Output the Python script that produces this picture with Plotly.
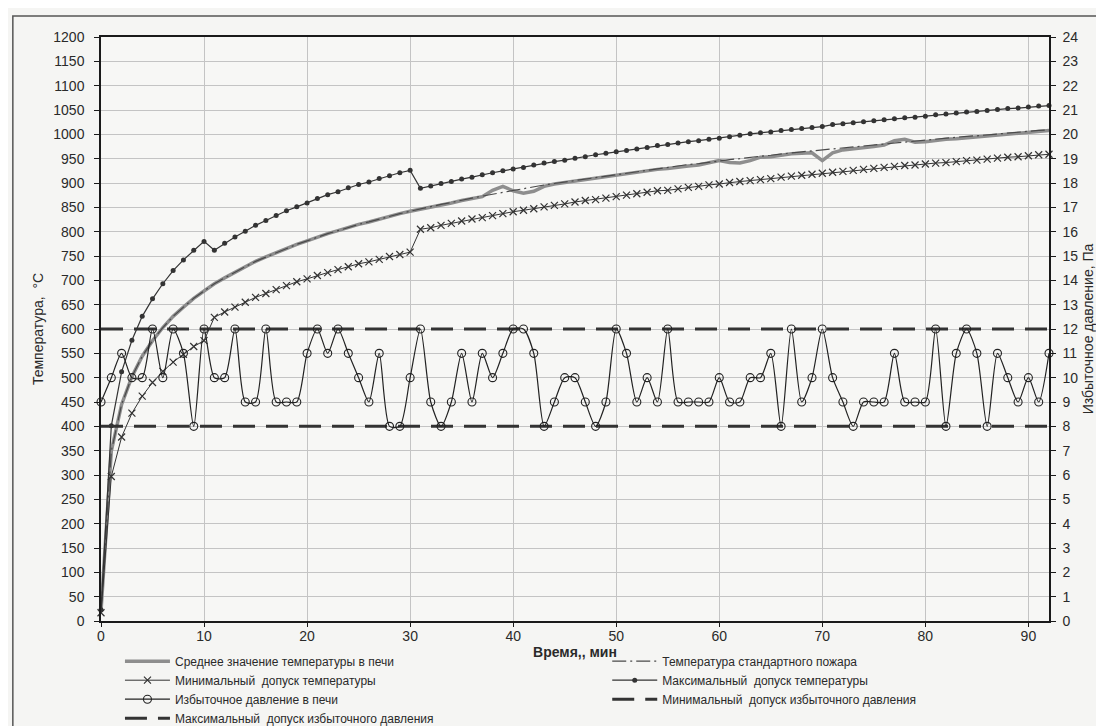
import plotly.graph_objects as go

# ---- data ----
time_min = list(range(0, 93))

temp_standard = [20, 349, 445, 502, 544, 576, 603, 626, 645, 663, 678, 693, 705, 717, 728, 739, 748, 757, 766, 774,
                 781, 789, 796, 802, 809, 815, 820, 826, 832, 837, 842, 847, 851, 856, 860, 865, 869, 873, 877, 881,
                 885, 888, 892, 896, 899, 902, 906, 909, 912, 915, 918, 921, 924, 927, 930, 932, 935, 938, 940, 943,
                 945, 948, 950, 953, 955, 957, 960, 962, 964, 966, 968, 971, 973, 975, 977, 979, 981, 983, 985, 986,
                 988, 990, 992, 994, 996, 997, 999, 1001, 1003, 1004, 1006, 1008, 1009]

temp_mean = [20, 349, 445, 502, 544, 576, 603, 626, 645, 663, 678, 693, 705, 717, 728, 739, 748, 757, 766, 774,
             781, 789, 796, 802, 809, 815, 820, 826, 832, 837, 842, 846, 850, 855, 859, 864, 868, 872, 885, 893,
             884, 879, 883, 893, 898, 901, 905, 908, 911, 914, 917, 920, 922, 925, 928, 930, 933, 935, 937, 941,
             946, 942, 941, 946, 953, 954, 957, 960, 961, 962, 946, 962, 968, 970, 972, 975, 978, 987, 990, 984,
             985, 988, 990, 991, 993, 995, 997, 999, 1001, 1003, 1004, 1006, 1008]

temp_min_tol = [17, 297, 378, 427, 462, 490, 513, 532, 548, 564, 576, 624, 635, 645, 655, 665, 673, 681, 689, 697,
                703, 710, 716, 722, 728, 734, 738, 743, 749, 753, 758, 805, 808, 813, 817, 822, 826, 829, 833, 837,
                841, 844, 847, 851, 854, 857, 861, 864, 866, 869, 872, 875, 878, 881, 884, 885, 888, 891, 893, 896,
                898, 901, 903, 905, 907, 909, 912, 914, 916, 918, 920, 922, 924, 926, 928, 930, 932, 934, 936, 937,
                939, 941, 942, 944, 946, 947, 949, 951, 953, 954, 956, 958, 959]

temp_max_tol = [23, 401, 512, 577, 626, 662, 693, 720, 742, 762, 780, 762, 776, 789, 801, 813, 823, 833, 843, 851,
                859, 868, 876, 882, 890, 897, 902, 909, 915, 921, 926, 889, 894, 899, 903, 908, 912, 917, 921, 925,
                929, 932, 937, 941, 944, 947, 951, 954, 958, 961, 964, 967, 970, 973, 977, 979, 982, 985, 987, 990,
                992, 995, 998, 1001, 1003, 1005, 1008, 1010, 1012, 1014, 1016, 1020, 1022, 1024, 1026, 1028, 1030,
                1032, 1034, 1035, 1037, 1040, 1042, 1044, 1046, 1047, 1049, 1051, 1053, 1054, 1056, 1058, 1059]

pressure = [9, 10, 11, 10, 10, 12, 10, 12, 11, 8, 12, 10, 10, 12, 9, 9, 12, 9, 9, 9,
            11, 12, 11, 12, 11, 10, 9, 11, 8, 8, 10, 12, 9, 8, 9, 11, 9, 11, 10, 11,
            12, 12, 11, 8, 9, 10, 10, 9, 8, 9, 12, 11, 9, 10, 9, 12, 9, 9, 9, 9,
            10, 9, 9, 10, 10, 11, 8, 12, 9, 10, 12, 10, 9, 8, 9, 9, 9, 11, 9, 9,
            9, 12, 8, 11, 12, 11, 8, 11, 10, 9, 10, 9, 11]

press_tol_time = [0, 92]
press_min_tol = [8, 8]
press_max_tol = [12, 12]

FONT = "Liberation Sans, Arial, sans-serif"
INK = "#2a2a2a"

fig = go.Figure()

fig.add_trace(go.Scatter(
    x=time_min, y=temp_mean, mode="lines",
    name="Среднее значение температуры в печи",
    line=dict(color="#8e8e8e", width=3.5), legend="legend", legendrank=1))

fig.add_trace(go.Scatter(
    x=time_min, y=temp_standard, mode="lines",
    name="Температура стандартного пожара",
    line=dict(color="#4a4a4a", width=1.2, dash="14px,4px,2px,4px"), legend="legend2", legendrank=1))

fig.add_trace(go.Scatter(
    x=time_min, y=temp_min_tol, mode="lines+markers",
    name="Минимальный  допуск температуры",
    line=dict(color="#333333", width=1),
    marker=dict(symbol="x-thin", size=7, line=dict(color="#333333", width=1.2)),
    cliponaxis=False, legend="legend", legendrank=2))

fig.add_trace(go.Scatter(
    x=time_min, y=temp_max_tol, mode="lines+markers",
    name="Максимальный  допуск температуры",
    line=dict(color="#333333", width=1.2),
    marker=dict(symbol="circle", size=5, color="#333333"),
    cliponaxis=False, legend="legend2", legendrank=2))

fig.add_trace(go.Scatter(
    x=press_tol_time, y=press_min_tol, mode="lines", yaxis="y2",
    name="Минимальный  допуск избыточного давления",
    line=dict(color="#333333", width=3, dash="22px,11px"), legend="legend2", legendrank=3))

fig.add_trace(go.Scatter(
    x=press_tol_time, y=press_max_tol, mode="lines", yaxis="y2",
    name="Максимальный  допуск избыточного давления",
    line=dict(color="#333333", width=3, dash="22px,11px"), legend="legend", legendrank=4))

fig.add_trace(go.Scatter(
    x=time_min, y=pressure, mode="lines+markers", yaxis="y2",
    name="Избыточное давление в печи",
    line=dict(color="#222222", width=1.2, shape="spline", smoothing=0.7),
    marker=dict(symbol="circle-open", size=8, line=dict(color="#333333", width=1.1)),
    cliponaxis=False, legend="legend", legendrank=3))

axis_common = dict(showline=True, linecolor="#1a1a1a", linewidth=1.5, ticks="outside",
                   tickcolor="#1a1a1a", tickfont=dict(family=FONT, size=14, color=INK),
                   zeroline=False, automargin=False)

legend_common = dict(xanchor="left", yanchor="top",
                     orientation="v", bgcolor="rgba(0,0,0,0)",
                     font=dict(family=FONT, size=12, color=INK), itemwidth=45, tracegroupgap=0)

fig.update_layout(
    width=1104, height=726,
    margin=dict(l=93, r=63, t=29, b=113, autoexpand=False),
    paper_bgcolor="#f5f5f3", plot_bgcolor="#f7f7f5",
    font=dict(family=FONT, color=INK),
    xaxis=dict(range=[0, 92], tick0=0, dtick=10, showgrid=True, gridcolor="#c4c4c4", gridwidth=1,
               mirror=True, ticklen=4, ticklabelstandoff=-3,
               title=dict(text="<b>Время,, мин</b>", font=dict(family=FONT, size=14, color=INK), standoff=2),
               **axis_common),
    yaxis=dict(range=[0, 1200], tick0=0, dtick=50, showgrid=True, gridcolor="#c4c4c4", gridwidth=1,
               ticklen=5, ticklabelstandoff=7,
               title=dict(text="Температура,  °С", font=dict(family=FONT, size=14, color=INK), standoff=6),
               **axis_common),
    yaxis2=dict(range=[0, 24], tick0=0, dtick=1, overlaying="y", side="right", showgrid=False,
                ticklen=5, ticklabelstandoff=4,
                title=dict(text="Избыточное давление, Па", font=dict(family=FONT, size=14, color=INK), standoff=6),
                **axis_common),
    legend=dict(x=0.02, y=-0.044, **legend_common),
    legend2=dict(x=0.534, y=-0.044, **legend_common),
    shapes=[dict(type="rect", xref="paper", yref="paper", x0=-0.093, x1=1.06, y0=-0.2, y1=1.036,
                 line=dict(color="#555555", width=1.5), fillcolor="rgba(0,0,0,0)", layer="below")],
)

fig.write_html("out.html")
